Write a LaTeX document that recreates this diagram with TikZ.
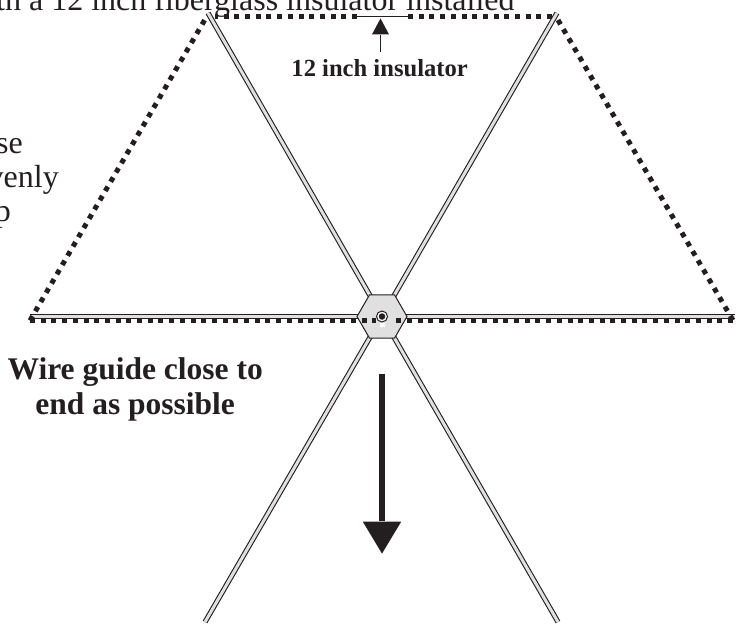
\documentclass[tikz,border=0pt]{standalone}
\usepackage{fontspec}
\setmainfont{Liberation Serif}
\usetikzlibrary{calc,shapes.geometric}
\definecolor{ink}{HTML}{231F20}
\tikzset{
  spoke/.style={draw=ink,line width=1.1pt,double=black!12,double distance=3pt},
  wire/.style={draw=ink,line width=5pt,dash pattern=on 5pt off 5.7pt},
  plain/.style={font=\fontsize{32}{32}\selectfont,text=ink,inner sep=0pt},
  caption/.style={font=\fontsize{31.5}{35}\selectfont\bfseries,text=ink,inner sep=0pt,align=center},
  small/.style={font=\fontsize{24.6}{25}\selectfont\bfseries,text=ink,inner sep=0pt},
}
\begin{document}
\begin{tikzpicture}[x=1pt,y=-1pt]
\useasboundingbox (0,0) rectangle (746,624);
\coordinate (c) at (382,316.5);
\coordinate (tl) at (208,13);
\coordinate (tr) at (557,13);
\coordinate (l) at (30,316.5);
\coordinate (r) at (735,316.5);
\coordinate (bl) at (205,622);
\coordinate (br) at (558,622);
\coordinate (wl) at (30,320.5);
\coordinate (wr) at (733,320.5);
\coordinate (wa) at (376,320.5);
\coordinate (wb) at (392,320.5);
% spokes
\draw[spoke] (c) -- (tl);
\draw[spoke] (c) -- (tr);
\draw[spoke] (c) -- (l);
\draw[spoke] (c) -- (r);
\draw[spoke] (c) -- (bl);
\draw[spoke] (c) -- (br);
% hub
\node[regular polygon,regular polygon sides=6,minimum size=50pt,inner sep=0pt,draw=ink,line width=1pt,fill=black!12] (hub) at (c) {};
% wire
\coordinate (ia) at (357,16.5);
\coordinate (ib) at (408,16.5);
\draw[wire] (wl) -- ($(tl)+(-1,3)$);
\draw[wire] (ia) -- ($(tl)+(7,3.5)$);
\draw[wire] (ib) -- ($(tr)+(-3,3.5)$);
\draw[wire] ($(tr)+(1,7)$) -- (wr);
\draw[wire] (wl) -- (wa);
\draw[wire] (wr) -- (wb);
\draw[ink,line width=1.5pt] (ia) -- (ib);
% center post
\fill[white] (379.5,323) rectangle (385,327);
\node[circle,draw=ink,line width=1pt,fill=white,minimum size=11pt,inner sep=0pt] (post) at (382,316.5) {};
\node[circle,fill=ink,minimum size=6.5pt,inner sep=0pt] (pin) at (post) {};
% arrows
\coordinate (as) at (382,374);
\node[isosceles triangle,isosceles triangle apex angle=62,shape border rotate=-90,fill=ink,minimum height=32pt,minimum width=33pt,inner sep=0pt,anchor=apex] (tip) at (382,554) {};
\draw[ink,line width=5.5pt] (as) -- (tip.north);
\node[small,anchor=base east] (ins) at (468,76) {12 inch insulator};
\coordinate (istem) at (380.5,52);
\node[isosceles triangle,isosceles triangle apex angle=56,shape border rotate=90,fill=ink,minimum height=16pt,minimum width=16pt,inner sep=0pt,anchor=apex] (itip) at (380.5,18) {};
\draw[ink,line width=1pt] (istem) -- (itip.south);
% text
\node[plain,anchor=base west] (top) at (-4,10) {th a 12 inch fiberglass insulator installed};
\node[plain,anchor=base east] (t1) at (23,153) {se};
\node[plain,anchor=base east] (t2) at (59,187) {venly};
\node[plain,anchor=base east] (t3) at (11,221) {p};
\node[caption,anchor=base east] (guide) at (263,379) {Wire guide close to};
\node[caption,anchor=base] (guide2) at (guide.base |- 0,414) {end as possible};
\end{tikzpicture}
\end{document}
